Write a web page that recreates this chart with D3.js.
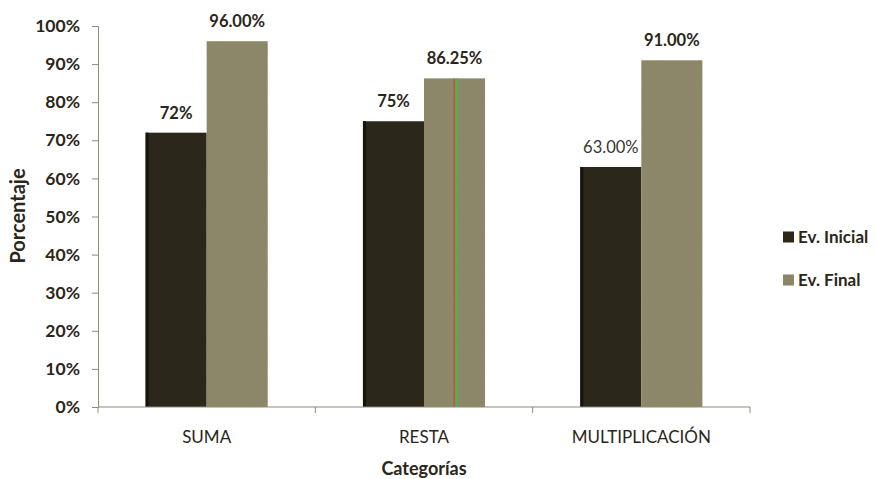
<!DOCTYPE html>
<html>
<head>
<meta charset="utf-8">
<script src="https://cdn.jsdelivr.net/npm/d3@7"></script>
<style>
  html, body { margin: 0; padding: 0; background: #ffffff; }
  svg { display: block; }
  text { font-family: Lato, "Open Sans", sans-serif; }
</style>
</head>
<body>
<svg id="chart" width="877" height="479"></svg>
<script>
// Categories and series values (percent)
const categories = ["SUMA", "RESTA", "MULTIPLICACIÓN"];
const seriesNames = ["Ev. Inicial", "Ev. Final"];
const inicialValues = [72, 75, 63];
const finalValues = [96, 86.25, 91];
const inicialLabels = ["72%", "75%", "63.00%"];
const finalLabels = ["96.00%", "86.25%", "91.00%"];
const yTickValues = [0, 10, 20, 30, 40, 50, 60, 70, 80, 90, 100];

const seriesColors = ["#2c271b", "#8b8566"];
const textColor = "#2b2619";
const axisColor = "#8e8c72";

const svg = d3.select("#chart");
const plot = { left: 98, right: 750, top: 26, bottom: 407 };

// Light speckle over the lighter bars
const defs = svg.append("defs");
const grain = defs.append("filter").attr("id", "grain")
  .attr("x", 0).attr("y", 0).attr("width", 1).attr("height", 1);
grain.append("feTurbulence")
  .attr("type", "fractalNoise").attr("baseFrequency", 0.85)
  .attr("numOctaves", 2).attr("seed", 3).attr("result", "noise");
grain.append("feColorMatrix").attr("in", "noise").attr("type", "matrix")
  .attr("values", "0 0 0 0 0.45  0 0 0 0 0.43  0 0 0 0 0.33  0 0 0 0.1 0")
  .attr("result", "speck");
grain.append("feComposite").attr("in", "speck").attr("in2", "SourceGraphic")
  .attr("operator", "in").attr("result", "speckIn");
grain.append("feMerge").call(m => {
  m.append("feMergeNode").attr("in", "SourceGraphic");
  m.append("feMergeNode").attr("in", "speckIn");
});

const x0 = d3.scaleBand().domain(categories)
  .range([plot.left, plot.right]).paddingInner(0).paddingOuter(0);
const x1 = d3.scaleBand().domain(seriesNames)
  .range([0, x0.bandwidth()]).paddingInner(0).paddingOuter(0.78);
const y = d3.scaleLinear().domain([0, 100]).range([plot.bottom, plot.top]);

const rows = categories.map((c, i) => ({
  cat: c,
  values: [
    { s: seriesNames[0], v: inicialValues[i], label: inicialLabels[i] },
    { s: seriesNames[1], v: finalValues[i], label: finalLabels[i] }
  ]
}));

// Bars
const groups = svg.append("g").selectAll("g").data(rows).join("g")
  .attr("transform", d => `translate(${x0(d.cat)},0)`);

groups.selectAll("rect").data(d => d.values).join("rect")
  .attr("x", d => x1(d.s))
  .attr("y", d => y(d.v))
  .attr("width", x1.bandwidth())
  .attr("height", d => y(0) - y(d.v))
  .attr("fill", (d, i) => seriesColors[i])
  .attr("filter", (d, i) => i === 1 ? "url(#grain)" : null);

// Darker left edge on the initial-evaluation bars
groups.append("rect")
  .attr("x", x1(seriesNames[0]))
  .attr("y", d => y(d.values[0].v))
  .attr("width", 3)
  .attr("height", d => y(0) - y(d.values[0].v))
  .attr("fill", "#17140d");

// Thin red/green rule through the RESTA final bar
const restaFinalX = x0("RESTA") + x1("Ev. Final") + x1.bandwidth() * 0.52;
const restaTop = y(finalValues[1]);
svg.append("line")
  .attr("x1", restaFinalX - 1.5).attr("x2", restaFinalX - 1.5)
  .attr("y1", restaTop).attr("y2", y(0))
  .attr("stroke", "#d04a34").attr("stroke-width", 1.3);
svg.append("line")
  .attr("x1", restaFinalX + 0.8).attr("x2", restaFinalX + 0.8)
  .attr("y1", restaTop).attr("y2", y(0))
  .attr("stroke", "#1fd03a").attr("stroke-width", 1.5);

// Value labels
groups.selectAll("text.val").data(d => d.values).join("text")
  .attr("class", "val")
  .attr("x", d => x1(d.s) + x1.bandwidth() / 2)
  .attr("y", d => y(d.v) - 14)
  .attr("text-anchor", "middle")
  .attr("font-size", 16.5)
  .attr("font-weight", d => d.label === "63.00%" ? 400 : 700)
  .attr("fill", d => d.label === "63.00%" ? "#37352f" : textColor)
  .text(d => d.label);

// Y axis
const yAxis = d3.axisLeft(y).tickValues(yTickValues)
  .tickFormat(d => d + "%").tickSize(6).tickPadding(12);
const gy = svg.append("g").attr("transform", `translate(${plot.left},0)`).call(yAxis);
gy.select(".domain").attr("stroke", axisColor);
gy.selectAll(".tick line").attr("stroke", axisColor);
gy.selectAll(".tick text")
  .attr("fill", textColor).attr("font-size", 17.5).attr("font-weight", 700)
  .attr("font-family", "Lato, sans-serif");

// X axis with ticks at category boundaries
const gx = svg.append("g").attr("transform", `translate(0,${plot.bottom})`);
gx.append("line")
  .attr("x1", plot.left).attr("x2", plot.right)
  .attr("stroke", axisColor);
const boundaries = categories.map(c => x0(c)).concat([plot.right]);
gx.selectAll("line.tk").data(boundaries).join("line")
  .attr("class", "tk")
  .attr("x1", d => d).attr("x2", d => d)
  .attr("y1", 0).attr("y2", 6)
  .attr("stroke", axisColor);
gx.selectAll("text").data(categories).join("text")
  .attr("x", d => x0(d) + x0.bandwidth() / 2)
  .attr("y", 36)
  .attr("text-anchor", "middle")
  .attr("font-size", 17)
  .attr("fill", textColor)
  .text(d => d);

// Axis titles
svg.append("text")
  .attr("x", (plot.left + plot.right) / 2).attr("y", 475)
  .attr("text-anchor", "middle")
  .attr("font-size", 18).attr("font-weight", 700)
  .attr("fill", textColor)
  .text("Categorías");

svg.append("text")
  .attr("transform", `translate(25,216) rotate(-90)`)
  .attr("text-anchor", "middle")
  .attr("font-size", 20).attr("font-weight", 700)
  .attr("fill", textColor)
  .text("Porcentaje");

// Legend
const legend = svg.append("g").attr("transform", "translate(783,237)");
const li = legend.selectAll("g").data(seriesNames).join("g")
  .attr("transform", (d, i) => `translate(0,${i * 43})`);
li.append("rect")
  .attr("x", 0).attr("y", -5.5).attr("width", 11).attr("height", 11)
  .attr("fill", (d, i) => seriesColors[i]);
li.append("text")
  .attr("x", 15).attr("y", 6)
  .attr("font-size", 17).attr("font-weight", 700)
  .attr("fill", textColor)
  .text(d => d);
</script>
</body>
</html>
